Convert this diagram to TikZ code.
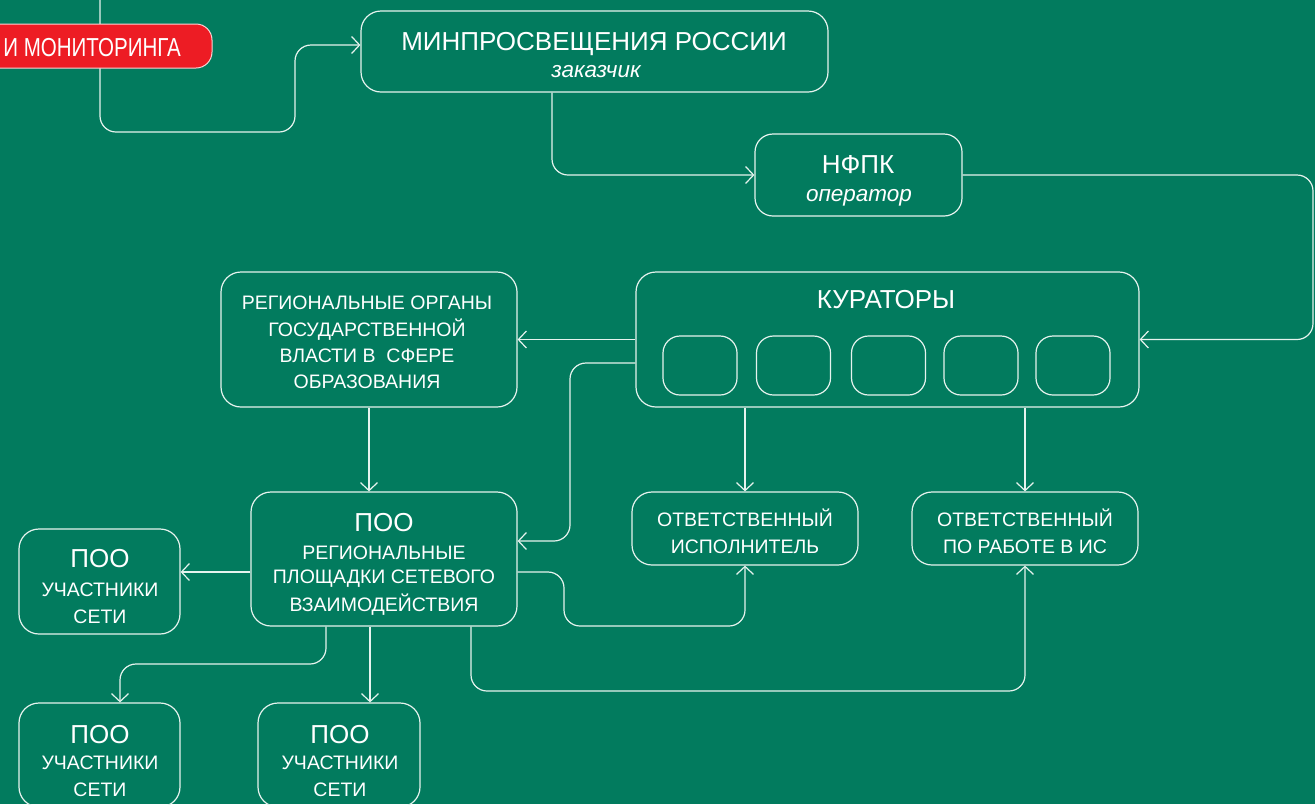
\documentclass[tikz,border=0pt]{standalone}
\usepackage{fontspec}
\setmainfont{Liberation Sans}
\newfontfamily\condfont[FakeStretch=0.79]{Liberation Sans}
\usetikzlibrary{arrows.meta}
\definecolor{bg}{HTML}{027B5E}
\definecolor{redbox}{HTML}{ED1C24}
\definecolor{ln}{HTML}{E6F3EE}
\begin{document}
\begin{tikzpicture}[x=1pt,y=-1pt,
  conn/.style={draw=ln, line width=1.2pt, rounded corners=16pt,
    -{Straight Barb[length=8pt,width=17pt,line width=1.2pt]}},
  box/.style={draw=ln, line width=1.2pt, rounded corners=20pt, inner sep=0pt},
  sbox/.style={box, rounded corners=17pt},
  txt/.style={text=white, inner sep=0pt, anchor=base},
  big/.style={txt, font=\fontsize{26}{30}\selectfont},
  sml/.style={txt, font=\fontsize{19.5}{24}\selectfont},
  sub/.style={txt, font=\fontsize{22.5}{27}\selectfont\itshape}]
\useasboundingbox (0,0) rectangle (1315,804);
\clip (0,0) rectangle (1315,804);
\fill[bg] (0,0) rectangle (1315,804);

% boxes
\node[box, minimum width=467pt, minimum height=81pt] (min) at (594.5,51.5) {};
\node[box, rounded corners=18pt, minimum width=207pt, minimum height=82pt] (nfpk) at (858.5,175) {};
\node[box, minimum width=503pt, minimum height=135pt] (kur) at (887.5,339.5) {};
\node[sbox, minimum width=74pt, minimum height=59pt] (k1) at (700,365.5) {};
\node[sbox, minimum width=74pt, minimum height=59pt] (k2) at (793.5,365.5) {};
\node[sbox, minimum width=74pt, minimum height=59pt] (k3) at (888.5,365.5) {};
\node[sbox, minimum width=74pt, minimum height=59pt] (k4) at (981,365.5) {};
\node[sbox, minimum width=74pt, minimum height=59pt] (k5) at (1073,365.5) {};
\node[box, minimum width=296pt, minimum height=135pt] (reg) at (369,339.5) {};
\node[box, minimum width=266pt, minimum height=134pt] (poo) at (384,559) {};
\node[box, minimum width=226pt, minimum height=73pt] (otv1) at (745,528.5) {};
\node[box, minimum width=226pt, minimum height=73pt] (otv2) at (1025,528.5) {};
\node[box, minimum width=161pt, minimum height=105pt] (u1) at (99.5,581.5) {};
\node[box, minimum width=161pt, minimum height=104pt] (u2) at (99.5,755) {};
\node[box, minimum width=162pt, minimum height=104pt] (u3) at (339,755) {};

% connectors
\coordinate (ctop) at (-20,-17);
\draw[conn] (ctop) -| (100,132) -| (295,45) -- (min.west |- 0,45);
\draw[conn] (min.south -| 552,0) |- (nfpk.west);
\draw[conn] (nfpk.east) -| (1313,339.5) -- (kur.east);
\draw[conn] (kur.west) -- (reg.east);
\draw[conn] (kur.west |- 0,363) -| (570,541) -- (poo.east |- 0,541);
\draw[conn] (reg.south) -- (reg.south |- poo.north);
\draw[conn] (otv1.north |- kur.south) -- (otv1.north);
\draw[conn] (otv2.north |- kur.south) -- (otv2.north);
\draw[conn] (poo.east |- 0,572) -| (564,626) -| (otv1.south);
\draw[conn] (poo.south -| 471,0) |- (1025,691) -- (otv2.south);
\draw[conn] (poo.west |- 0,572) -- (u1.east |- 0,572);
\draw[conn] (poo.south -| 326,0) |- (120,664) -- (u2.north -| 120,0);
\draw[conn] (poo.south -| 370,0) -- (u3.north -| 370,0);

% red box
\node[fill=redbox, draw=white!80!redbox, line width=1pt, rounded corners=16pt,
  minimum width=242pt, minimum height=44pt, inner sep=0pt] (red) at (91,46) {};
\node[txt, anchor=base east, font=\condfont\fontsize{26}{30}\selectfont] (tred) at (181,56) {И МОНИТОРИНГА};

% texts
\node[big] (tmin1) at (594,50) {МИНПРОСВЕЩЕНИЯ РОССИИ};
\node[sub] (tmin2) at (596,77) {заказчик};
\node[big] (tn1) at (858,173) {НФПК};
\node[sub] (tn2) at (859,201) {оператор};
\node[big] (tk) at (886,308) {КУРАТОРЫ};
\node[sml] (tr1) at (367,309) {РЕГИОНАЛЬНЫЕ ОРГАНЫ};
\node[sml] (tr2) at (367,336) {ГОСУДАРСТВЕННОЙ};
\node[sml] (tr3) at (367,362) {ВЛАСТИ В\ \ СФЕРЕ};
\node[sml] (tr4) at (367,388) {ОБРАЗОВАНИЯ};
\node[big] (tp1) at (384,531) {ПОО};
\node[sml] (tp2) at (384,559) {РЕГИОНАЛЬНЫЕ};
\node[sml] (tp3) at (384,583) {ПЛОЩАДКИ СЕТЕВОГО};
\node[sml] (tp4) at (384,611) {ВЗАИМОДЕЙСТВИЯ};
\node[sml] (to11) at (745,526) {ОТВЕТСТВЕННЫЙ};
\node[sml] (to12) at (745,553) {ИСПОЛНИТЕЛЬ};
\node[sml] (to21) at (1025,526) {ОТВЕТСТВЕННЫЙ};
\node[sml] (to22) at (1025,553) {ПО РАБОТЕ В ИС};
\node[big] (tu11) at (100,567) {ПОО};
\node[sml] (tu12) at (100,596) {УЧАСТНИКИ};
\node[sml] (tu13) at (100,623) {СЕТИ};
\node[big] (tu21) at (100,743) {ПОО};
\node[sml] (tu22) at (100,769) {УЧАСТНИКИ};
\node[sml] (tu23) at (100,796) {СЕТИ};
\node[big] (tu31) at (340,743) {ПОО};
\node[sml] (tu32) at (340,769) {УЧАСТНИКИ};
\node[sml] (tu33) at (340,796) {СЕТИ};
\end{tikzpicture}
\end{document}
